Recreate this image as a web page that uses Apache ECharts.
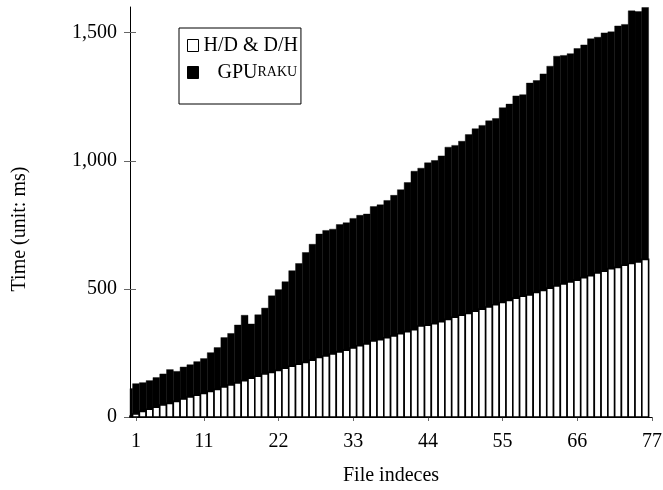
<!DOCTYPE html>
<html>
<head>
<meta charset="utf-8">
<script src="https://cdn.jsdelivr.net/npm/echarts@6/dist/echarts.min.js"></script>
<style>
html, body { margin: 0; padding: 0; background: #fff; }
#main { width: 663px; height: 490px; }
</style>
</head>
<body>
<div id="main"></div>
<script>
// time spent in host<->device copies (white part)
var hdTime = [3, 12, 22, 30, 38, 47, 53, 61, 70, 78,
    85, 92, 100, 108, 117, 125, 133, 142, 151, 159,
    168, 174, 182, 190, 198, 206, 213, 222, 232, 238,
    246, 254, 261, 269, 278, 285, 297, 302, 309, 316,
    325, 333, 341, 355, 358, 364, 372, 381, 389, 397,
    404, 413, 421, 429, 438, 447, 455, 464, 471, 476,
    486, 494, 503, 511, 519, 527, 534, 544, 551, 562,
    569, 579, 584, 592, 599, 605, 615];
// total GPUraku time (black bar, H/D part drawn over it)
var gpurakuTime = [111, 130, 134, 142, 154, 168, 185, 178, 195, 204,
    216, 228, 251, 271, 310, 326, 359, 397, 363, 399,
    425, 473, 497, 528, 571, 599, 642, 674, 714, 728,
    733, 751, 758, 775, 787, 792, 821, 828, 845, 865,
    887, 915, 959, 971, 992, 1001, 1019, 1053, 1060, 1076,
    1102, 1125, 1138, 1156, 1165, 1207, 1221, 1253, 1258, 1303,
    1313, 1339, 1369, 1408, 1411, 1418, 1438, 1452, 1476, 1482,
    1499, 1503, 1526, 1532, 1585, 1582, 1598];
var xTicks = [1, 11, 22, 33, 44, 55, 66, 77];
var yTicks = [0, 500, 1000, 1500];

var FONT = 'Palatino, "Palatino Linotype", "URW Palladio L", P052, "Liberation Serif", serif';

var dom = document.getElementById('main');
var myChart = echarts.init(dom);

function toPoints(arr) {
    return arr.map(function (v, i) { return [i, v]; });
}

function withComma(v) {
    return String(v).replace(/\B(?=(\d{3})+(?!\d))/g, ',');
}

// full-width bar, cut at the plot edge (the first bar sits half outside)
function renderBar(params, api) {
    var x = api.value(0);
    var y = api.value(1);
    var p0 = api.coord([x - 0.5, y]);
    var p1 = api.coord([x + 0.5, 0]);
    var rect = echarts.graphic.clipRectByRect({
        x: p0[0], y: p0[1], width: p1[0] - p0[0], height: p1[1] - p0[1]
    }, {
        x: params.coordSys.x, y: params.coordSys.y,
        width: params.coordSys.width, height: params.coordSys.height
    });
    return rect && { type: 'rect', shape: rect, style: api.style() };
}

var option = {
    animation: false,
    grid: {
        left: 130, right: 11, top: 7, bottom: 73,
        outerBoundsMode: 'none'
    },
    legend: {
        left: 179, top: 28,
        orient: 'vertical',
        icon: 'rect',
        itemWidth: 11, itemHeight: 12, itemGap: 2,
        padding: [5, 3, 19, 8],
        borderColor: '#000', borderWidth: 1,
        backgroundColor: '#fff',
        data: [
            { name: 'H/D & D/H', itemStyle: { color: '#fff', borderColor: '#000', borderWidth: 1 } },
            { name: 'GPUraku', itemStyle: { color: '#000', borderColor: '#000', borderWidth: 1 } }
        ],
        formatter: function (name) {
            if (name === 'GPUraku') return '{big|GPU}{sc|RAKU}';
            return name;
        },
        textStyle: {
            fontFamily: FONT, fontSize: 20, color: '#000', lineHeight: 25,
            rich: {
                big: { fontFamily: FONT, fontSize: 20, color: '#000', padding: [0, 0, 0, 14] },
                sc: { fontFamily: FONT, fontSize: 14, color: '#000' }
            }
        }
    },
    xAxis: {
        type: 'value',
        min: 0.12, max: 77,
        name: 'File indeces',
        nameLocation: 'middle',
        nameGap: 49,
        nameTextStyle: { fontFamily: FONT, fontSize: 20, color: '#000' },
        axisLine: { lineStyle: { color: '#000', width: 1 } },
        axisTick: { customValues: xTicks, length: 4, lineStyle: { color: '#666' } },
        axisLabel: { customValues: xTicks, fontFamily: FONT, fontSize: 20, color: '#000', margin: 15 },
        splitLine: { show: false }
    },
    yAxis: [{
        type: 'value',
        min: 0, max: 1600,
        position: 'left',
        name: 'Time (unit: ms)',
        nameLocation: 'middle',
        nameGap: 100,
        nameTextStyle: { fontFamily: FONT, fontSize: 20, color: '#000', padding: [0, 34, 0, 0] },
        axisLine: { show: true, lineStyle: { color: '#000', width: 1 } },
        axisTick: { show: true, customValues: yTicks, length: 6, lineStyle: { color: '#666' } },
        axisLabel: {
            customValues: yTicks, fontFamily: FONT, fontSize: 20, color: '#000', margin: 13,
            formatter: withComma
        },
        splitLine: { show: false }
    }, {
        type: 'value',
        min: 0, max: 1600,
        position: 'left',
        axisLine: { show: false },
        axisTick: { show: true, inside: true, customValues: yTicks, length: 6, lineStyle: { color: '#666' } },
        axisLabel: { show: false },
        splitLine: { show: false }
    }],
    series: [{
        name: 'GPUraku',
        type: 'custom',
        renderItem: renderBar,
        encode: { x: 0, y: 1 },
        data: toPoints(gpurakuTime),
        itemStyle: { color: '#000', borderColor: '#000', borderWidth: 0.4 }
    }, {
        name: 'H/D & D/H',
        type: 'custom',
        renderItem: renderBar,
        encode: { x: 0, y: 1 },
        data: toPoints(hdTime),
        itemStyle: { color: '#fff', borderColor: '#000', borderWidth: 1.6 }
    }]
};

myChart.setOption(option);
</script>
</body>
</html>
